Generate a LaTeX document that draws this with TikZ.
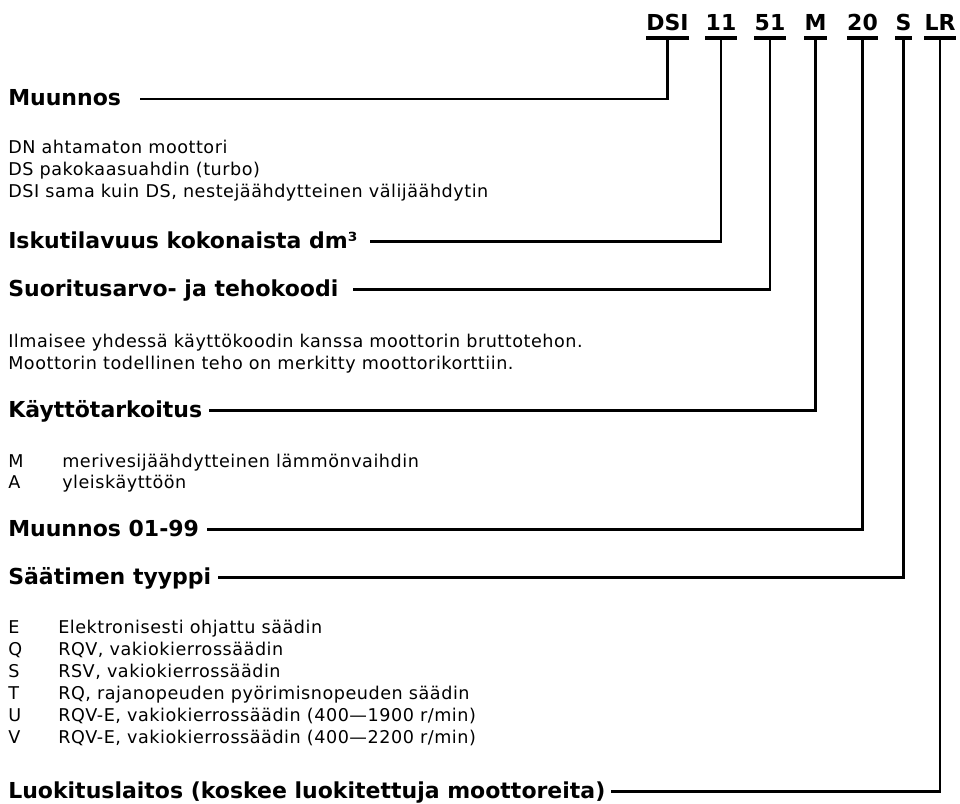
\documentclass[tikz,border=0pt]{standalone}
\usepackage{fontspec}
\setmainfont{DejaVu Sans}
\newfontfamily\bodyfont[LetterSpace=3]{DejaVu Sans}
\usetikzlibrary{positioning}
\tikzset{
  head/.style={anchor=base west, inner sep=0pt, text depth=0pt, font=\fontsize{16.5}{20}\bfseries\selectfont},
  body/.style={anchor=base west, inner sep=0pt, font=\fontsize{13.2}{16}\bodyfont},
  code/.style={anchor=base, inner sep=0pt, text depth=6pt, font=\fontsize{16.5}{20}\bfseries\selectfont},
  uline/.style={line width=3pt},
  lead/.style={line width=2.2pt},
}
\begin{document}
\begin{tikzpicture}[x=0.75pt,y=0.75pt,yscale=-1,xscale=1]
\useasboundingbox (0,0) rectangle (960,803);
% Type code
\node[code] (cDSI) at (667.5,30) {DSI};
\node[code] (c11) at (721,30) {11};
\node[code] (c51) at (770,30) {51};
\node[code] (cM) at (815.5,30) {M};
\node[code] (c20) at (862.5,30) {20};
\node[code] (cS) at (903.5,30) {S};
\node[code] (cLR) at (940,30) {LR};
\foreach \c in {cDSI,c11,c51,cM,c20,cS,cLR}
  \draw[uline] (\c.south west) -- (\c.south east);

% Headings
\node[head] (hMuunnos) at (8,105) {Muunnos};
\node[head] (hIsku) at (8,248) {Iskutilavuus kokonaista dm³};
\node[head] (hSuor) at (8,296) {Suoritusarvo- ja tehokoodi};
\node[head] (hKaytto) at (8,417) {Käyttötarkoitus};
\node[head] (hMuunnos2) at (8,536) {Muunnos 01-99};
\node[head] (hSaadin) at (8,584) {Säätimen tyyppi};
\node[head] (hLuok) at (8,798) {Luokituslaitos (koskee luokitettuja moottoreita)};

% Body text
\node[body] (tDN) at (8,153) {DN ahtamaton moottori};
\node[body] (tDS) at (8,175) {DS pakokaasuahdin (turbo)};
\node[body] (tDSI) at (8,197) {DSI sama kuin DS, nestejäähdytteinen välijäähdytin};
\node[body] (tIlm1) at (8,347) {Ilmaisee yhdessä käyttökoodin kanssa moottorin bruttotehon.};
\node[body] (tIlm2) at (8,369) {Moottorin todellinen teho on merkitty moottorikorttiin.};
\node[body] (kM) at (8,467) {M};
\node[body] (dM) at (62,467) {merivesijäähdytteinen lämmönvaihdin};
\node[body] (kA) at (8,488) {A};
\node[body] (dA) at (62,488) {yleiskäyttöön};
\foreach \k/\y/\t in {E/633/Elektronisesti ohjattu säädin,
                      Q/655/{RQV, vakiokierrossäädin},
                      S/677/{RSV, vakiokierrossäädin},
                      T/699/{RQ, rajanopeuden pyörimisnopeuden säädin},
                      U/721/{RQV-E, vakiokierrossäädin (400—1900 r/min)},
                      V/743/{RQV-E, vakiokierrossäädin (400—2200 r/min)}}{
  \node[body] (k\k) at (8,\y) {\k};
  \node[body] (d\k) at (58,\y) {\t};
}

% Leader lines
\draw[lead] (cDSI.south) |- ([xshift=14pt,yshift=1.5pt]hMuunnos.east);
\draw[lead] (c11.south) |- ([xshift=9pt,yshift=1.5pt]hIsku.east);
\draw[lead] (c51.south) |- ([xshift=11pt,yshift=1.5pt]hSuor.east);
\draw[lead] (cM.south) |- ([xshift=5pt,yshift=1.5pt]hKaytto.east);
\draw[lead] (c20.south) |- ([xshift=6pt,yshift=1.5pt]hMuunnos2.east);
\draw[lead] (cS.south) |- ([xshift=5pt,yshift=1.5pt]hSaadin.east);
\draw[lead] (cLR.south) |- ([xshift=4pt,yshift=1.5pt]hLuok.east);
\end{tikzpicture}
\end{document}
